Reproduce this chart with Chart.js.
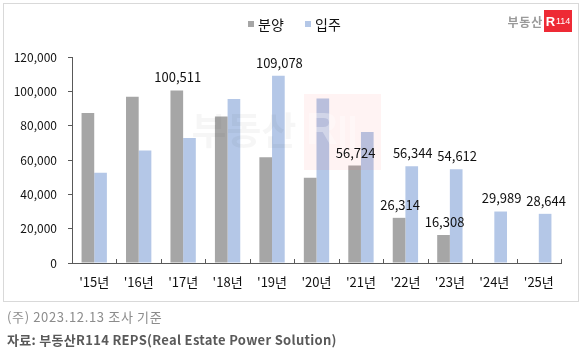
<!DOCTYPE html>
<html>
<head>
<meta charset="utf-8">
<script src="https://cdn.jsdelivr.net/npm/chart.js@4"></script>
<style>
  html, body { margin: 0; padding: 0; background: #fff; }
  body { width: 586px; height: 355px; position: relative; overflow: hidden; font-family: "Noto Sans CJK KR", "Noto Sans", sans-serif; }
  #frame { position: absolute; left: 3px; top: 3px; width: 574px; height: 297px; border: 1px solid #d9d9d9; box-sizing: content-box; }
  #wrap { position: absolute; left: 0; top: 0; width: 586px; height: 355px; }
  #logo { position: absolute; right: 14px; top: 10px; height: 22px; display: flex; align-items: center; }
  #logo .kr { color: #9a9a9a; font-weight: 700; font-size: 12px; letter-spacing: 0.8px; margin-right: 1px; }
  #logo .box { background: #ee2a35; color: #fff; width: 28px; height: 22px; display: flex; align-items: center; justify-content: center; font-weight: 700; font-size: 13px; font-family: "Liberation Sans", sans-serif; }
  #logo .box small { font-size: 9px; font-weight: 400; margin-left: 1px; }
  .note { position: absolute; left: 7px; font-size: 13px; white-space: nowrap; line-height: 1; }
  #note1 { top: 310px; color: #8c8c8c; letter-spacing: 0.65px; }
  #note2 { top: 333px; color: #595959; font-weight: 700; letter-spacing: 0.3px; }
</style>
</head>
<body>
<div id="frame"></div>
<div id="wrap"><canvas id="c" width="586" height="355"></canvas></div>
<div id="logo"><span class="kr">부동산</span><span class="box">R<small>114</small></span></div>
<div class="note" id="note1">(주) 2023.12.13 조사 기준</div>
<div class="note" id="note2">자료: 부동산R114 REPS(Real Estate Power Solution)</div>
<script>
// ---- data ----
const categories = ["'15년", "'16년", "'17년", "'18년", "'19년", "'20년", "'21년", "'22년", "'23년", "'24년", "'25년"];
const seriesNames = ["분양", "입주"];
const supply = [87400, 96900, 100511, 85300, 61600, 49700, 56724, 26314, 16308, null, null];
const movein = [52600, 65500, 72800, 95500, 109078, 95800, 76300, 56344, 54612, 29989, 28644];
const supplyShowLabel = [false, false, true, false, false, false, true, true, true, false, false];
const moveinShowLabel = [false, false, false, false, true, false, false, true, true, true, true];
const yTicks = [0, 20000, 40000, 60000, 80000, 100000, 120000];

const FONT = '"Noto Sans CJK KR", "Noto Sans", sans-serif';
const fmt = v => Number(v).toLocaleString('en-US');

const helper = {
  id: 'helper',
  afterDatasetsDraw(chart) {
    const ctx = chart.ctx;
    const xs = chart.scales.x;
    // faint watermark
    ctx.save();
    ctx.fillStyle = 'rgba(255,80,80,0.07)';
    ctx.fillRect(304, 94, 77, 76);
    ctx.fillStyle = 'rgba(255,255,255,0.35)';
    ctx.font = 'bold 44px "Liberation Sans", sans-serif';
    ctx.textAlign = 'center';
    ctx.textBaseline = 'middle';
    ctx.fillText('R', 322, 132);
    ctx.fillRect(340, 116, 5, 32);
    ctx.fillRect(350, 116, 5, 32);
    ctx.fillStyle = 'rgba(0,0,0,0.035)';
    ctx.font = 'bold 38px ' + FONT;
    ctx.fillText('부동산', 244, 130);
    ctx.restore();

    // inward x-axis tick marks at category boundaries
    ctx.save();
    ctx.strokeStyle = '#595959';
    ctx.lineWidth = 1;
    const n = categories.length;
    for (let i = 0; i <= n; i++) {
      const x = Math.round(xs.left + i * (xs.right - xs.left) / n) + 0.5;
      ctx.beginPath();
      ctx.moveTo(x, xs.top - 4);
      ctx.lineTo(x, xs.top);
      ctx.stroke();
    }
    ctx.restore();

    // data labels
    ctx.save();
    ctx.font = '13px ' + FONT;
    ctx.fillStyle = '#111';
    ctx.textAlign = 'center';
    ctx.textBaseline = 'middle';
    const flags = [supplyShowLabel, moveinShowLabel];
    chart.data.datasets.forEach((ds, di) => {
      const meta = chart.getDatasetMeta(di);
      meta.data.forEach((bar, i) => {
        if (!flags[di][i] || ds.data[i] == null) return;
        ctx.fillText(fmt(ds.data[i]), bar.x + 1, bar.y - 13);
      });
    });
    ctx.restore();

    // legend
    ctx.save();
    ctx.font = '14px ' + FONT;
    ctx.textBaseline = 'middle';
    ctx.textAlign = 'left';
    const legendItems = [
      { text: seriesNames[0], color: chart.data.datasets[0].backgroundColor, x: 248 },
      { text: seriesNames[1], color: chart.data.datasets[1].backgroundColor, x: 305 }
    ];
    legendItems.forEach(it => {
      ctx.fillStyle = it.color;
      ctx.fillRect(it.x, 21, 6, 6);
      ctx.fillStyle = '#111';
      ctx.fillText(it.text, it.x + 10, 25);
    });
    ctx.restore();
  }
};

new Chart(document.getElementById('c'), {
  type: 'bar',
  data: {
    labels: categories,
    datasets: [
      { label: seriesNames[0], data: supply, backgroundColor: '#a6a6a6', categoryPercentage: 0.57, barPercentage: 1.0 },
      { label: seriesNames[1], data: movein, backgroundColor: '#b4c7e7', categoryPercentage: 0.57, barPercentage: 1.0 }
    ]
  },
  options: {
    responsive: false,
    animation: false,
    devicePixelRatio: 1,
    layout: { padding: { left: 0, right: 25, top: 57, bottom: 62 } },
    plugins: { legend: { display: false }, tooltip: { enabled: false } },
    scales: {
      x: {
        grid: { display: true, drawOnChartArea: false, drawTicks: false },
        border: { display: true, color: '#595959', width: 1 },
        ticks: { color: '#111', font: { family: FONT, size: 13 }, padding: 11, maxRotation: 0, autoSkip: false },
        afterFit(s) { s.height = 30; }
      },
      y: {
        min: 0, max: 120000,
        grid: { display: true, drawOnChartArea: false, drawTicks: true, tickLength: 4, color: '#595959' },
        border: { display: true, color: '#595959', width: 1 },
        afterBuildTicks(s) { s.ticks = yTicks.map(v => ({ value: v })); },
        ticks: { color: '#111', font: { family: FONT, size: 12 }, padding: 11, callback: v => fmt(v) },
        afterFit(s) { s.width = 72; }
      }
    }
  },
  plugins: [helper]
});
</script>
</body>
</html>
